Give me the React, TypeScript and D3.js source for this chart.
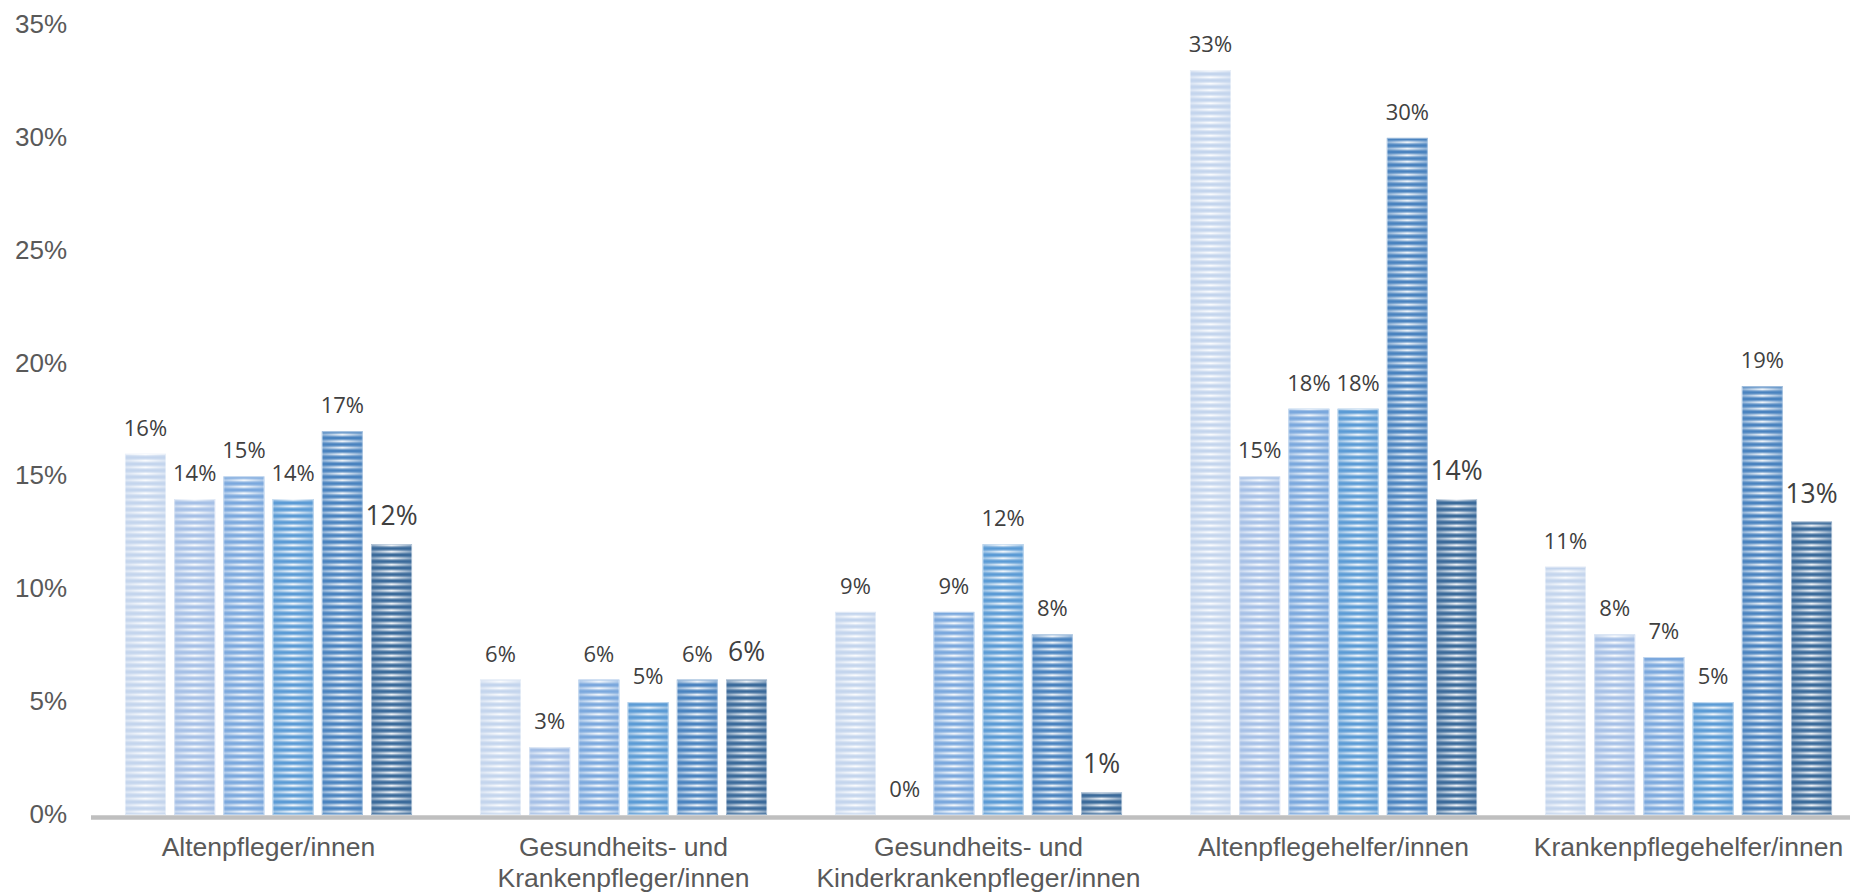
import { useEffect } from "react";
import * as d3 from "d3";

const categories = [
  ["Altenpfleger/innen"],
  ["Gesundheits- und", "Krankenpfleger/innen"],
  ["Gesundheits- und", "Kinderkrankenpfleger/innen"],
  ["Altenpflegehelfer/innen"],
  ["Krankenpflegehelfer/innen"],
];
const seriesNames = ["Reihe 1", "Reihe 2", "Reihe 3", "Reihe 4", "Reihe 5", "Reihe 6"];
const seriesColors = ["#c4d5ed", "#a6c0e6", "#7ba8dd", "#5b9bd5", "#4a83bf", "#3b6a9a"];
// one row per category, one value per series (in %)
const values = [
  [16, 14, 15, 14, 17, 12],
  [6, 3, 6, 5, 6, 6],
  [9, 0, 9, 12, 8, 1],
  [33, 15, 18, 18, 30, 14],
  [11, 8, 7, 5, 19, 13],
];
const yTicks = [0, 5, 10, 15, 20, 25, 30, 35];

const W = 1850;
const H = 893;

const App = () => {
  useEffect(() => {
    document.body.style.margin = "0";
  }, []);

  const catKeys = categories.map((c) => c.join(" "));
  const x0 = d3.scaleBand().domain(catKeys).range([91, 1866]);
  const x1 = d3
    .scaleBand()
    .domain(seriesNames)
    .range([0, x0.bandwidth()])
    .paddingInner(0.167)
    .paddingOuter(0.69);
  const y = d3.scaleLinear().domain([0, 35]).range([815, 25]);

  const axisFont = "'Liberation Sans', Arial, sans-serif";
  const labelFont = "'Open Sans', sans-serif";

  return (
    <div style={{ position: "absolute", left: 0, top: 0 }}>
      <svg width={W} height={H} style={{ display: "block", background: "#fff" }}>
        <defs>
          <linearGradient id="vgrad" x1="0" y1="0" x2="0" y2="1">
            <stop offset="0" stopColor="#fff" stopOpacity="0" />
            <stop offset="0.12" stopColor="#fff" stopOpacity="0" />
            <stop offset="0.5" stopColor="#fff" stopOpacity="1" />
            <stop offset="0.88" stopColor="#fff" stopOpacity="0" />
            <stop offset="1" stopColor="#fff" stopOpacity="0" />
          </linearGradient>
          <pattern
            id="stripes"
            patternUnits="userSpaceOnUse"
            width="10"
            height="6.5"
            patternTransform={`translate(0, ${y(0)})`}
          >
            <rect width="10" height="6.5" fill="url(#vgrad)" />
          </pattern>
          <linearGradient id="hgrad" x1="0" y1="0" x2="1" y2="0">
            <stop offset="0" stopColor="#666" />
            <stop offset="0.5" stopColor="#fff" />
            <stop offset="1" stopColor="#666" />
          </linearGradient>
          <mask id="hmask" maskContentUnits="objectBoundingBox">
            <rect x="0" y="0" width="1" height="1" fill="url(#hgrad)" />
          </mask>
        </defs>

        {/* Y labels */}
        {yTicks.map((t) => (
          <text
            key={t}
            x={67}
            y={y(t) + 8}
            textAnchor="end"
            fontFamily={axisFont}
            fontSize={26}
            fill="#595959"
          >
            {t}%
          </text>
        ))}

        {/* bars */}
        {values.map((row, ci) => (
          <g key={catKeys[ci]} transform={`translate(${x0(catKeys[ci])},0)`}>
            {row.map((v, si) => {
              const bx = x1(seriesNames[si]) as number;
              const bw = x1.bandwidth();
              const top = y(v);
              const h = y(0) - top;
              const last = si === seriesNames.length - 1;
              return (
                <g key={si}>
                  {h > 0 && (
                    <>
                      <rect x={bx} y={top} width={bw} height={h} fill={seriesColors[si]} />
                      <g mask="url(#hmask)">
                        <rect x={bx} y={top} width={bw} height={h} fill="url(#stripes)" />
                      </g>
                      <rect
                        x={bx + 0.5}
                        y={top + 0.5}
                        width={bw - 1}
                        height={h - 1}
                        fill="none"
                        stroke="#fff"
                        strokeOpacity={0.45}
                        strokeWidth={1}
                      />
                    </>
                  )}
                  <text
                    x={bx + bw / 2}
                    y={top - (last ? 19 : 18)}
                    textAnchor="middle"
                    fontFamily={labelFont}
                    fontSize={last ? 26.5 : 22}
                    fill="#404040"
                  >
                    {v}%
                  </text>
                </g>
              );
            })}
          </g>
        ))}

        {/* X axis line */}
        <line x1={91} x2={W} y1={817.5} y2={817.5} stroke="#bfbfbf" strokeWidth={4.6} />

        {/* X labels */}
        {categories.map((lines, ci) => {
          const cx = (x0(catKeys[ci]) as number) + x0.bandwidth() / 2;
          return (
            <text
              key={catKeys[ci]}
              x={cx}
              y={856}
              textAnchor="middle"
              fontFamily={axisFont}
              fontSize={26.5}
              fill="#595959"
            >
              {lines.map((l, li) => (
                <tspan key={li} x={cx} dy={li === 0 ? 0 : 31}>
                  {l}
                </tspan>
              ))}
            </text>
          );
        })}
      </svg>
    </div>
  );
};

export default App;
